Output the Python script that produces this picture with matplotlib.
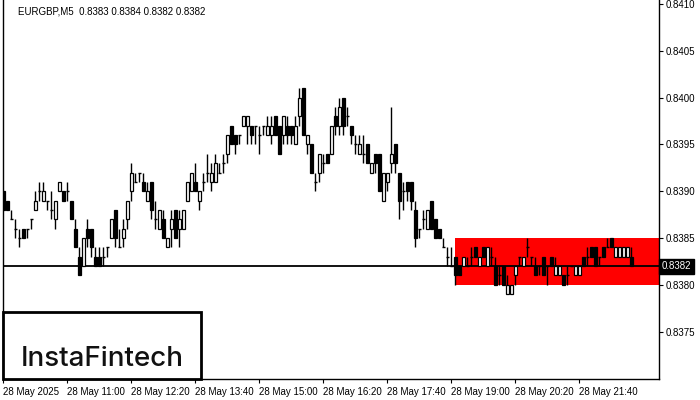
import matplotlib
matplotlib.use("Agg")
import matplotlib.pyplot as plt
from matplotlib.patches import Rectangle
import matplotlib.transforms as mtransforms
import numpy as np

# ---- data (prices, EURGBP M5, 28 May 2025 from 09:40) ----
opens = [0.8390,0.8389,0.8387,0.8386,0.8385,0.8386,0.8386,0.8387,0.8388,0.8390,
         0.8389,0.8389,0.8388,0.8387,0.8390,0.8390,0.8390,0.8389,0.8386,0.8383,
         0.8382,0.8386,0.8386,0.8383,0.8383,0.8383,0.8384,0.8385,0.8388,0.8384,
         0.8385,0.8387,0.8390,0.8391,0.8392,0.8391,0.8389,0.8391,0.8387,0.8386,
         0.8387,0.8384,0.8386,0.8388,0.8386,0.8386,0.8389,0.8390,0.8391,0.8389,
         0.8391,0.8392,0.8391,0.8391,0.8392,0.8393,0.8394,0.8397,0.8396,0.8396,
         0.8397,0.8397,0.8397,0.8397,0.8396,0.8397,0.8396,0.8396,0.8398,0.8397,
         0.8396,0.8397,0.8397,0.8395,0.8398,0.8401,0.8395,0.8395,0.8391,0.8392,
         0.8393,0.8394,0.8394,0.8398,0.8397,0.8400,0.8398,0.8397,0.8395,0.8394,
         0.8394,0.8395,0.8392,0.8394,0.8394,0.8389,0.8391,0.8393,0.8395,0.8392,
         0.8390,0.8391,0.8391,0.8388,0.8386,0.8387,0.8386,0.8389,0.8387,0.8386,
         0.8384,0.8383,0.8382,0.8383,0.8382,0.8382,0.8382,0.8383,0.8384,0.8382,
         0.8384,0.8382,0.8383,0.8382,0.8381,0.8382,0.8379,0.8379,0.8381,0.8383,
         0.8382,0.8384,0.8383,0.8382,0.8382,0.8383,0.8382,0.8383,0.8381,0.8381,
         0.8381,0.8381,0.8382,0.8381,0.8381,0.8383,0.8383,0.8384,0.8384,0.8383,
         0.8384,0.8384,0.8385,0.8383,0.8383,0.8383,0.8383,0.8383]
closes = [0.8388,0.8388,0.8387,0.8386,0.8385,0.8385,0.8386,0.8387,0.8389,0.8390,
          0.8390,0.8389,0.8388,0.8389,0.8391,0.8389,0.8390,0.8387,0.8384,0.8381,
          0.8385,0.8385,0.8384,0.8382,0.8382,0.8383,0.8384,0.8387,0.8385,0.8384,
          0.8386,0.8389,0.8392,0.8391,0.8392,0.8390,0.8390,0.8388,0.8387,0.8388,
          0.8385,0.8385,0.8387,0.8385,0.8387,0.8388,0.8391,0.8392,0.8390,0.8390,
          0.8391,0.8392,0.8392,0.8393,0.8392,0.8393,0.8396,0.8395,0.8395,0.8396,
          0.8398,0.8398,0.8396,0.8397,0.8396,0.8397,0.8397,0.8397,0.8396,0.8394,
          0.8398,0.8396,0.8396,0.8397,0.8400,0.8396,0.8396,0.8392,0.8391,0.8394,
          0.8393,0.8393,0.8397,0.8397,0.8399,0.8397,0.8398,0.8396,0.8395,0.8395,
          0.8394,0.8393,0.8393,0.8393,0.8390,0.8392,0.8392,0.8394,0.8393,0.8389,
          0.8390,0.8390,0.8389,0.8385,0.8386,0.8387,0.8388,0.8386,0.8385,0.8385,
          0.8384,0.8383,0.8382,0.8381,0.8381,0.8383,0.8382,0.8383,0.8383,0.8383,
          0.8383,0.8384,0.8383,0.8380,0.8381,0.8380,0.8380,0.8380,0.8382,0.8383,
          0.8383,0.8384,0.8383,0.8381,0.8382,0.8381,0.8382,0.8382,0.8382,0.8382,
          0.8380,0.8381,0.8382,0.8382,0.8382,0.8382,0.8383,0.8383,0.8382,0.8383,
          0.8383,0.8384,0.8384,0.8384,0.8384,0.8384,0.8384,0.8382]
highs = [0.8390,0.8389,0.8388,0.8387,0.8386,0.8386,0.8386,0.8387,0.8390,0.8391,
         0.8391,0.8389,0.8390,0.8389,0.8391,0.8390,0.8391,0.8389,0.8387,0.8384,
         0.8385,0.8387,0.8386,0.8384,0.8384,0.8384,0.8384,0.8387,0.8388,0.8386,
         0.8387,0.8389,0.8393,0.8392,0.8392,0.8392,0.8391,0.8391,0.8389,0.8388,
         0.8388,0.8385,0.8388,0.8388,0.8388,0.8388,0.8391,0.8392,0.8393,0.8390,
         0.8392,0.8394,0.8393,0.8394,0.8393,0.8394,0.8396,0.8397,0.8396,0.8396,
         0.8398,0.8398,0.8397,0.8397,0.8397,0.8397,0.8398,0.8398,0.8398,0.8397,
         0.8398,0.8398,0.8397,0.8398,0.8401,0.8401,0.8396,0.8395,0.8392,0.8394,
         0.8394,0.8394,0.8397,0.8399,0.8400,0.8400,0.8399,0.8397,0.8396,0.8396,
         0.8396,0.8395,0.8393,0.8394,0.8394,0.8392,0.8392,0.8399,0.8395,0.8392,
         0.8391,0.8391,0.8391,0.8389,0.8386,0.8388,0.8388,0.8389,0.8387,0.8386,
         0.8385,0.8384,0.8384,0.8383,0.8382,0.8383,0.8383,0.8384,0.8384,0.8383,
         0.8384,0.8384,0.8384,0.8383,0.8382,0.8382,0.8381,0.8380,0.8382,0.8383,
         0.8383,0.8385,0.8383,0.8383,0.8382,0.8383,0.8382,0.8383,0.8383,0.8382,
         0.8381,0.8382,0.8382,0.8382,0.8382,0.8383,0.8384,0.8384,0.8384,0.8383,
         0.8384,0.8385,0.8385,0.8384,0.8384,0.8384,0.8384,0.8384]
lows = [0.8388,0.8388,0.8387,0.8385,0.8384,0.8385,0.8385,0.8386,0.8388,0.8389,
        0.8389,0.8388,0.8387,0.8386,0.8390,0.8389,0.8389,0.8387,0.8384,0.8381,
        0.8382,0.8384,0.8383,0.8382,0.8382,0.8382,0.8383,0.8385,0.8384,0.8384,
        0.8384,0.8386,0.8389,0.8391,0.8391,0.8390,0.8389,0.8387,0.8386,0.8386,
        0.8385,0.8384,0.8384,0.8385,0.8384,0.8386,0.8389,0.8390,0.8390,0.8388,
        0.8390,0.8391,0.8390,0.8391,0.8392,0.8392,0.8393,0.8395,0.8394,0.8395,
        0.8397,0.8395,0.8395,0.8395,0.8394,0.8396,0.8396,0.8395,0.8396,0.8394,
        0.8395,0.8395,0.8395,0.8395,0.8397,0.8396,0.8394,0.8392,0.8390,0.8391,
        0.8392,0.8393,0.8394,0.8396,0.8396,0.8396,0.8397,0.8395,0.8394,0.8394,
        0.8393,0.8393,0.8392,0.8392,0.8390,0.8389,0.8390,0.8392,0.8392,0.8387,
        0.8388,0.8389,0.8388,0.8384,0.8385,0.8386,0.8386,0.8386,0.8385,0.8385,
        0.8384,0.8382,0.8382,0.8380,0.8381,0.8382,0.8382,0.8382,0.8383,0.8382,
        0.8383,0.8382,0.8382,0.8380,0.8380,0.8380,0.8379,0.8379,0.8380,0.8382,
        0.8382,0.8383,0.8382,0.8381,0.8381,0.8381,0.8380,0.8382,0.8381,0.8381,
        0.8380,0.8380,0.8382,0.8381,0.8381,0.8382,0.8382,0.8383,0.8382,0.8382,
        0.8383,0.8384,0.8384,0.8383,0.8383,0.8383,0.8383,0.8382]

tick_labels = ["28 May 2025", "28 May 11:00", "28 May 12:20", "28 May 13:40",
               "28 May 15:00", "28 May 16:20", "28 May 17:40", "28 May 19:00",
               "28 May 20:20", "28 May 21:40"]
price_ticks = [0.8375, 0.8380, 0.8385, 0.8390, 0.8395, 0.8400, 0.8405, 0.8410]
zone_low, zone_high = 0.8380, 0.8385
zone_start = 112.9
current_price = 0.8382
title = "EURGBP,M5  0.8383 0.8384 0.8382 0.8382"

plt.rcParams['font.family'] = ['Liberation Sans', 'DejaVu Sans']

W, H = 700, 400
fig = plt.figure(figsize=(7, 4), dpi=100)
fig.patch.set_facecolor('white')
ax = fig.add_axes([3 / W, 21 / H, 656 / W, 379 / H])

n = len(opens)
x = np.arange(n)

# zone rectangle
ax.add_patch(Rectangle((zone_start, zone_low), 200, zone_high - zone_low,
                       facecolor='#ff0000', edgecolor='none', zorder=1))
# current price line
ax.axhline(current_price, color='black', lw=1.3, zorder=2)

o = np.array(opens); c = np.array(closes); h = np.array(highs); l = np.array(lows)
ax.vlines(x, l, h, color='black', lw=1.0, zorder=3)
bw = 0.55
for i in range(n):
    if abs(o[i] - c[i]) < 1e-9:
        ax.hlines(o[i], i - 0.38, i + 0.38, color='black', lw=1.0, zorder=4)
    else:
        bottom = min(o[i], c[i])
        height = abs(o[i] - c[i])
        fc = 'white' if c[i] > o[i] else 'black'
        ax.add_patch(Rectangle((i - bw / 2, bottom), bw, height, facecolor=fc,
                               edgecolor='black', lw=0.9, zorder=4))

ax.set_xlim(-0.125, 163.9)
ax.set_ylim(0.836994, 0.841043)

ax.yaxis.tick_right()
ax.set_yticks(price_ticks)
ax.set_yticklabels([f"{p:.4f}" for p in price_ticks], fontsize=7)
ax.set_xticks(np.arange(0, 160, 16))
ax.set_xticklabels(tick_labels, fontsize=7, ha='left')
ax.tick_params(axis='both', direction='out', length=3, width=0.8, color='black', pad=2)
ax.tick_params(axis='x', pad=3)
for s in ['top']:
    ax.spines[s].set_visible(False)
for s in ['left', 'right', 'bottom']:
    ax.spines[s].set_linewidth(1.0)

# current price label
trans = mtransforms.blended_transform_factory(ax.transAxes, ax.transData)
ax.text(1.004, current_price, f"{current_price:.4f}", transform=trans, fontsize=7,
        color='white', ha='left', va='center',
        bbox=dict(boxstyle='square,pad=0.25', facecolor='black', edgecolor='black'),
        zorder=10, clip_on=False)

# title
fig.text(18 / W, 1 - 12 / H, title, fontsize=7, ha='left', va='center')

# logo
fig.patches.append(Rectangle((3 / W, 21 / H), 198 / W, 67 / H, transform=fig.transFigure,
                             facecolor='white', edgecolor='black', lw=2.0, zorder=20))
fig.text(102 / W, 1 - 359 / H, "InstaFintech", fontsize=20, ha='center', va='center',
         family=['Inter', 'DejaVu Sans'], weight='medium', color='#111111', zorder=21)

fig.savefig("out.png", dpi=100, facecolor='white')
